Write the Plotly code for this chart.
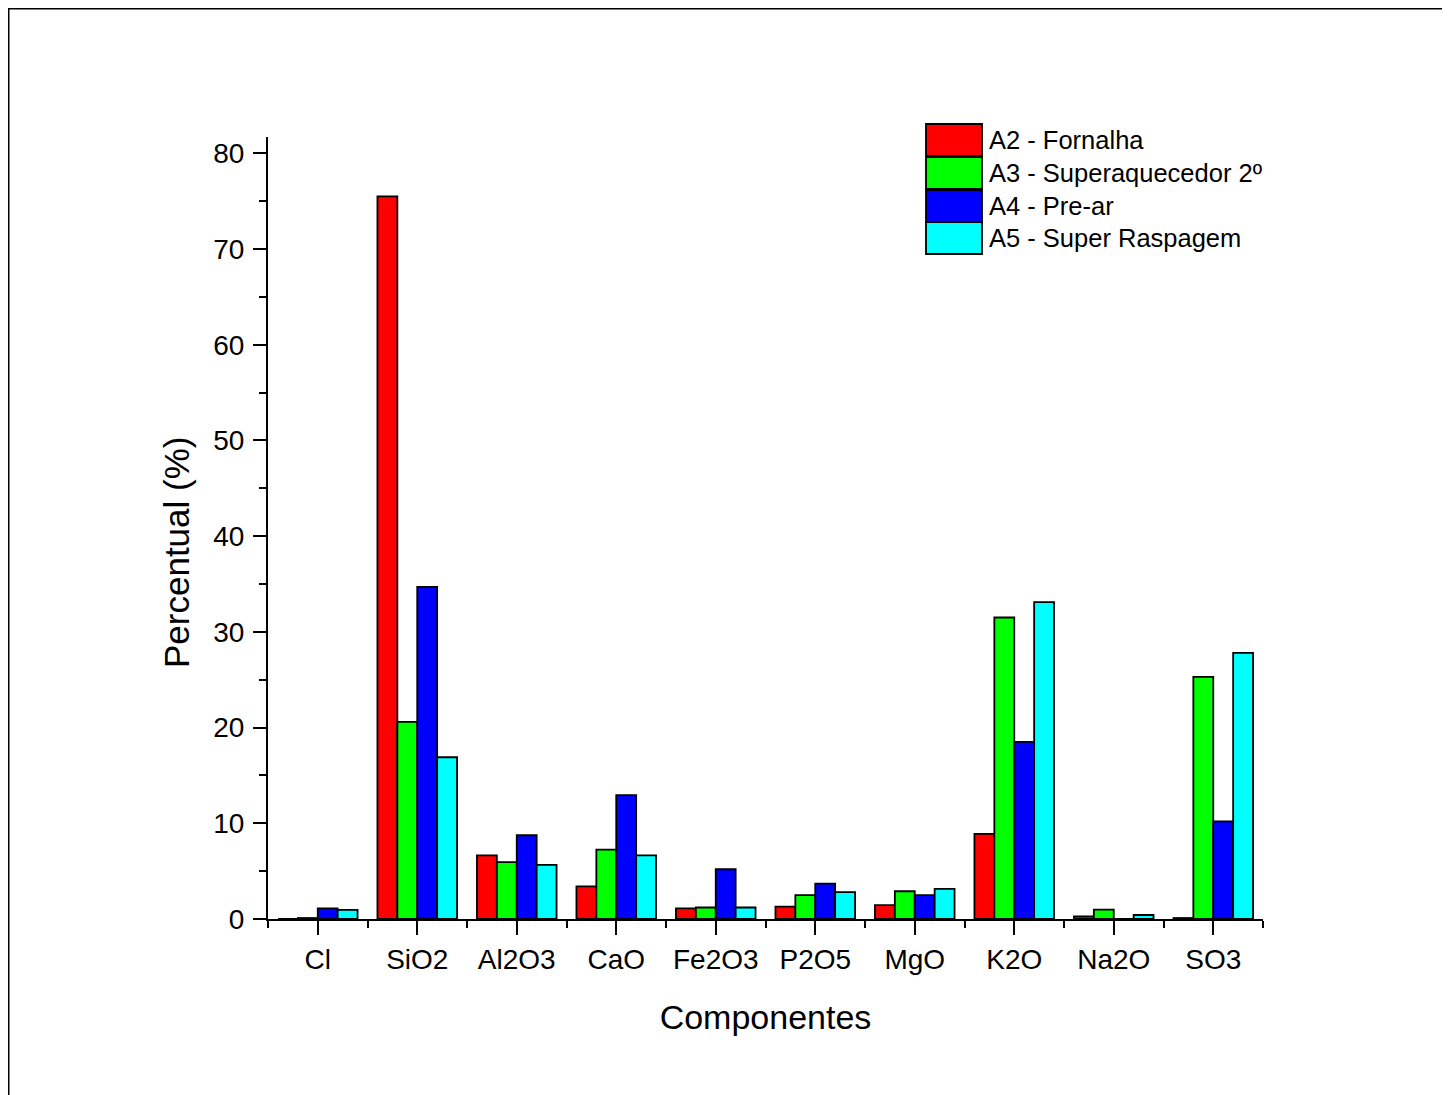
import plotly.graph_objects as go

categories = ["Cl", "SiO2", "Al2O3", "CaO", "Fe2O3", "P2O5", "MgO", "K2O", "Na2O", "SO3"]
series_names = ["A2 - Fornalha", "A3 - Superaquecedor 2º", "A4 - Pre-ar", "A5 - Super Raspagem"]
a2_fornalha = [0.0, 75.5, 6.65, 3.4, 1.1, 1.3, 1.45, 8.9, 0.28, 0.1]
a3_superaquecedor = [0.1, 20.6, 5.95, 7.25, 1.2, 2.5, 2.9, 31.5, 0.97, 25.3]
a4_prear = [1.1, 34.7, 8.75, 12.95, 5.2, 3.7, 2.5, 18.5, 0.0, 10.2]
a5_super_raspagem = [0.95, 16.9, 5.65, 6.65, 1.2, 2.8, 3.15, 33.1, 0.42, 27.8]
colors = ["#ff0000", "#00ff00", "#0000ff", "#00ffff"]
y_ticks = [0, 10, 20, 30, 40, 50, 60, 70, 80]

FONT = "Arial, Liberation Sans, sans-serif"
OFF = 8  # page body margin
W, H = 1450 - OFF, 1095 - OFF
L, R, T, B = 268 - OFF, 187, 137 - OFF, 176
pw, ph = W - L - R, H - T - B

def px(x):
    return (x - OFF - L) / pw

def py(y):
    return (H - B - (y - OFF)) / ph

xpos = list(range(len(categories)))
fig = go.Figure()
for name, vals, col in zip(series_names, [a2_fornalha, a3_superaquecedor, a4_prear, a5_super_raspagem], colors):
    fig.add_trace(go.Bar(x=xpos, y=vals, name=name, marker=dict(color=col, line=dict(color="black", width=1.8)),
                         showlegend=False))

shapes = []
annotations = []
# outer frame
shapes.append(dict(type="rect", xref="paper", yref="paper", x0=px(8.5), x1=px(1700), y0=py(8.5), y1=py(1400),
                   line=dict(color="black", width=2), fillcolor="rgba(0,0,0,0)", layer="below"))
# custom legend
leg_top = [124, 157, 190, 222]
for i, (name, col) in enumerate(zip(series_names, colors)):
    y0, y1 = leg_top[i], leg_top[i] + 32
    shapes.append(dict(type="rect", xref="paper", yref="paper", x0=px(926), x1=px(982), y0=py(y1), y1=py(y0),
                       fillcolor=col, line=dict(color="black", width=1.8)))
    annotations.append(dict(xref="paper", yref="paper", x=px(987), y=py((y0 + y1) / 2), text=name,
                            showarrow=False, xanchor="left", yanchor="middle",
                            font=dict(family=FONT, size=25.5, color="black")))
# y-axis title
annotations.append(dict(xref="paper", yref="paper", x=px(176), y=py(553), text="Percentual (%)",
                        textangle=-90, showarrow=False, xanchor="center", yanchor="middle",
                        font=dict(family=FONT, size=35, color="black")))

fig.update_layout(
    width=W, height=H,
    margin=dict(l=L, r=R, t=T, b=B, autoexpand=False),
    paper_bgcolor="white", plot_bgcolor="white",
    barmode="group", bargap=0.2, bargroupgap=0,
    shapes=shapes, annotations=annotations,
    font=dict(family=FONT, color="black"),
    xaxis=dict(range=[-0.5, 9.5], tickmode="array", tickvals=xpos, ticktext=categories,
               showline=True, linecolor="black", linewidth=2, showgrid=False, zeroline=False,
               ticks="outside", ticklen=14, tickwidth=2, tickcolor="black",
               tickfont=dict(family=FONT, size=28),
               minor=dict(tickmode="array", tickvals=[i - 0.5 for i in range(len(categories) + 1)],
                          ticks="outside", ticklen=7, tickwidth=2, tickcolor="black", showgrid=False),
               title=dict(text="Componentes", font=dict(family=FONT, size=34), standoff=32)),
    yaxis=dict(range=[0, 81.7], tickmode="array", tickvals=y_ticks,
               showline=True, linecolor="black", linewidth=2, showgrid=False, zeroline=False,
               ticks="outside", ticklen=13, tickwidth=2, tickcolor="black",
               tickfont=dict(family=FONT, size=28), ticklabelstandoff=3,
               minor=dict(tickmode="array", tickvals=[v + 5 for v in y_ticks[:-1]],
                          ticks="outside", ticklen=7, tickwidth=2, tickcolor="black", showgrid=False)),
)

fig.write_html("out.html")
